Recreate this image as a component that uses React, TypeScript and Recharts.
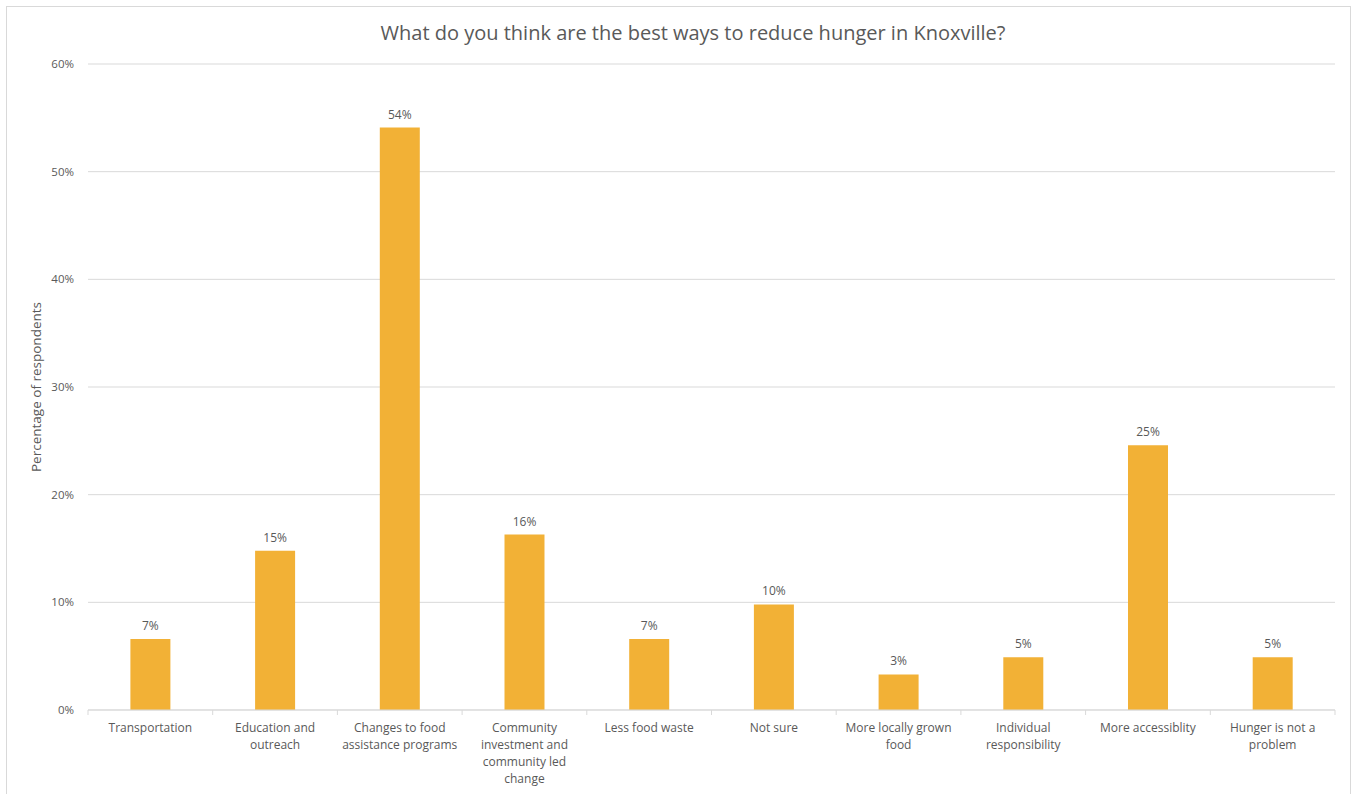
import React from "react";
import { BarChart, Bar, XAxis, YAxis, CartesianGrid, LabelList } from "recharts";

const categories = [
  "Transportation",
  "Education and\noutreach",
  "Changes to food\nassistance programs",
  "Community\ninvestment and\ncommunity led\nchange",
  "Less food waste",
  "Not sure",
  "More locally grown\nfood",
  "Individual\nresponsibility",
  "More accessiblity",
  "Hunger is not a\nproblem",
];
const values = [6.6, 14.8, 54.1, 16.3, 6.6, 9.8, 3.3, 4.9, 24.6, 4.9];
const yTicks = [0, 10, 20, 30, 40, 50, 60];

const data = categories.map((c, i) => ({ name: c, value: values[i] }));

const FONT = "'Open Sans', 'Noto Sans', sans-serif";
const GRAY = "#595959";

const CatTick = (props: any) => {
  const { x, y, payload, width, visibleTicksCount, index } = props;
  const band = width / visibleTicksCount;
  const lines = String(payload.value).split("\n");
  return (
    <g>
      <line x1={x - band / 2} x2={x - band / 2} y1={y - 8} y2={y - 3} stroke="#d9d9d9" />
      {index === visibleTicksCount - 1 && (
        <line x1={x + band / 2} x2={x + band / 2} y1={y - 8} y2={y - 3} stroke="#d9d9d9" />
      )}
      <text x={x} y={y + 14} textAnchor="middle" fill={GRAY} fontSize={12} fontFamily={FONT}>
        {lines.map((l: string, i: number) => (
          <tspan key={i} x={x} dy={i === 0 ? 0 : 17}>
            {l}
          </tspan>
        ))}
      </text>
    </g>
  );
};

export default function App() {
  return (
    <div style={{ position: "absolute", left: 0, top: 0, width: 1353, height: 794, background: "#fff", overflow: "hidden" }}>
      <div style={{ position: "absolute", left: 6, top: 6, width: 1343, height: 820, border: "1px solid #d9d9d9" }} />
      <div
        style={{
          position: "absolute",
          left: 0,
          top: 19,
          width: 1386,
          textAlign: "center",
          fontFamily: FONT,
          fontSize: 20,
          color: GRAY,
        }}
      >
        What do you think are the best ways to reduce hunger in Knoxville?
      </div>
      <div style={{ position: "absolute", left: 0, top: 0 }}>
        <BarChart width={1353} height={794} data={data} margin={{ top: 64, right: 18, bottom: 0, left: 0 }} barCategoryGap="34%">
          <CartesianGrid vertical={false} stroke="#d9d9d9" />
          <XAxis
            dataKey="name"
            interval={0}
            tickLine={false}
            axisLine={{ stroke: "#d9d9d9" }}
            tick={<CatTick />}
            height={84}
          />
          <YAxis
            width={88}
            domain={[0, 60]}
            ticks={yTicks}
            axisLine={false}
            tickLine={false}
            tickFormatter={(v: number) => `${v}%`}
            tick={{ fill: GRAY, fontSize: 11.5, fontFamily: FONT }}
            tickMargin={8}
            label={{
              value: "Percentage of respondents",
              angle: -90,
              position: "insideLeft",
              dx: 31,
              fill: GRAY,
              fontSize: 13.5,
              fontFamily: FONT,
              style: { textAnchor: "middle" },
            }}
          />
          <Bar dataKey="value" fill="#F2B136" isAnimationActive={false}>
            <LabelList
              dataKey="value"
              position="top"
              offset={9}
              formatter={(v: any) => `${Math.round(Number(v))}%`}
              style={{ fill: GRAY, fontSize: 12, fontFamily: FONT }}
            />
          </Bar>
        </BarChart>
      </div>
    </div>
  );
}
